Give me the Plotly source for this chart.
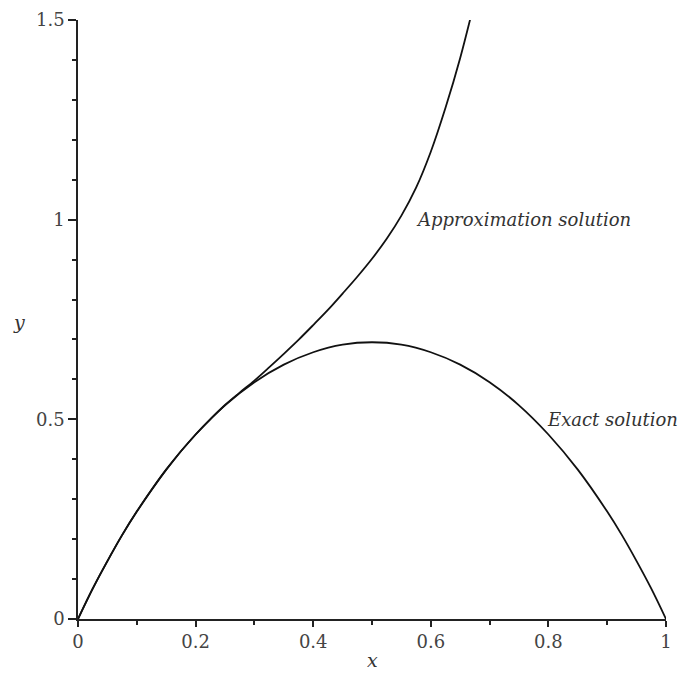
import plotly.graph_objects as go

# Values
exact_x = [0, 0.025, 0.05, 0.075, 0.1, 0.15, 0.2, 0.25, 0.3, 0.35, 0.4, 0.45, 0.5,
           0.55, 0.6, 0.65, 0.7, 0.75, 0.8, 0.85, 0.9, 0.925, 0.95, 0.975, 1.0]
exact_y = [0, 0.076, 0.145, 0.210, 0.269, 0.374, 0.462, 0.535, 0.593, 0.637, 0.668, 0.687, 0.693,
           0.687, 0.668, 0.637, 0.593, 0.535, 0.462, 0.374, 0.269, 0.210, 0.145, 0.076, 0]

approx_x = [0, 0.025, 0.05, 0.075, 0.1, 0.125, 0.15, 0.175, 0.2, 0.225, 0.25, 0.275, 0.3,
            0.325, 0.35, 0.375, 0.4, 0.425, 0.45, 0.475, 0.5, 0.525, 0.55, 0.575, 0.6,
            0.625, 0.65, 0.675]
approx_y = [0, 0.076, 0.145, 0.210, 0.269, 0.323, 0.374, 0.420, 0.462, 0.500, 0.536, 0.567, 0.597,
            0.630, 0.664, 0.699, 0.736, 0.774, 0.815, 0.857, 0.902, 0.952, 1.010, 1.080, 1.170,
            1.280, 1.405, 1.550]

x_ticks = [0, 0.2, 0.4, 0.6, 0.8, 1]
x_tick_labels = ["0", "0.2", "0.4", "0.6", "0.8", "1"]
y_ticks = [0, 0.5, 1, 1.5]
y_tick_labels = ["0", "0.5", "1", "1.5"]

serif = "DejaVu Serif"

fig = go.Figure()
fig.add_trace(go.Scatter(x=approx_x, y=approx_y, mode="lines",
                         line=dict(color="#111111", width=1.8, shape="spline", smoothing=1),
                         showlegend=False, hoverinfo="skip"))
fig.add_trace(go.Scatter(x=exact_x, y=exact_y, mode="lines",
                         line=dict(color="#111111", width=1.8, shape="spline", smoothing=1),
                         showlegend=False, hoverinfo="skip"))

fig.update_layout(
    width=678, height=679,
    margin=dict(l=78, r=6, t=20, b=60),
    paper_bgcolor="white", plot_bgcolor="white",
    font=dict(family=serif, size=18, color="#444444"),
    xaxis=dict(range=[0, 1], tickvals=x_ticks, ticktext=x_tick_labels,
               tickfont=dict(family=serif, size=18, color="#444444"),
               showline=True, linecolor="#222222", linewidth=1.5,
               ticks="outside", ticklen=6, tickwidth=1.5, tickcolor="#222222",
               minor=dict(dtick=0.1, ticks="outside", ticklen=4, tickwidth=1.5, tickcolor="#222222"),
               showgrid=False, zeroline=False, fixedrange=True),
    yaxis=dict(range=[0, 1.5], tickvals=y_ticks, ticktext=y_tick_labels,
               tickfont=dict(family=serif, size=18, color="#444444"),
               showline=True, linecolor="#222222", linewidth=1.5,
               ticks="outside", ticklen=8, tickwidth=1.5, tickcolor="#222222",
               minor=dict(dtick=0.1, ticks="outside", ticklen=4, tickwidth=1.5, tickcolor="#222222"),
               showgrid=False, zeroline=False, fixedrange=True),
)

fig.add_annotation(x=0.572, y=1.0, xref="x", yref="y", text="<i>Approximation solution</i>",
                   showarrow=False, xanchor="left", yanchor="middle",
                   font=dict(family=serif, size=18, color="#333333"))
fig.add_annotation(x=0.795, y=0.5, xref="x", yref="y", text="<i>Exact solution</i>",
                   showarrow=False, xanchor="left", yanchor="middle",
                   font=dict(family=serif, size=18, color="#333333"))
fig.add_annotation(xref="paper", yref="paper", x=(18 - 78) / 594, y=(619 - 322) / 599,
                   text="<i>y</i>", showarrow=False, xanchor="center", yanchor="middle",
                   font=dict(family=serif, size=19, color="#333333"))
fig.add_annotation(xref="paper", yref="paper", x=(375 - 78) / 594, y=(619 - 660) / 599,
                   text="<i>x</i>", showarrow=False, xanchor="center", yanchor="middle",
                   font=dict(family=serif, size=19, color="#333333"))

fig.write_html("out.html")
